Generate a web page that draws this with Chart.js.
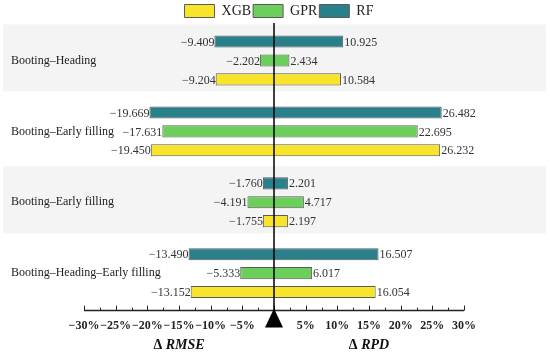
<!DOCTYPE html>
<html>
<head>
<meta charset="utf-8">
<script src="https://cdn.jsdelivr.net/npm/chart.js@4"></script>
<style>
  html, body { margin: 0; padding: 0; background: #fff; }
  #wrap { width: 550px; height: 352px; }
</style>
</head>
<body>
<div id="wrap"><canvas id="chart1" width="550" height="352"></canvas></div>
<script>
(() => {
  const serif = "'Liberation Serif', 'Times New Roman', serif";

  // categories, top to bottom
  const stages = ["Booting–Heading", "Booting–Early filling", "Booting–Early filling", "Booting–Heading–Early filling"];

  // change in RMSE (left side, %) and RPD (right side, %)
  const rmseRF = [-9.409, -19.669, -1.760, -13.490];
  const rpdRF = [10.925, 26.482, 2.201, 16.507];
  const rmseGPR = [-2.202, -17.631, -4.191, -5.333];
  const rpdGPR = [2.434, 22.695, 4.717, 6.017];
  const rmseXGB = [-9.204, -19.450, -1.755, -13.152];
  const rpdXGB = [10.584, 26.232, 2.197, 16.054];

  const xTicks = [-30, -25, -20, -15, -10, -5, 0, 5, 10, 15, 20, 25, 30];

  const pairs = (lo, hi) => lo.map((v, i) => [v, hi[i]]);
  const fmt = (v) => (v < 0 ? "−" : "") + Math.abs(v).toFixed(3);

  const makeSet = (label, lo, hi, color) => ({
    label: label,
    data: pairs(lo, hi),
    backgroundColor: color,
    borderColor: "#5b5b5b",
    borderWidth: 1,
    borderSkipped: false,
    categoryPercentage: 0.8,
    barPercentage: 0.64,
  });

  const decor = {
    id: "decor",
    afterLayout(chart) {
      // legend sits a little right of centre in the original
      chart.legend.left += 5;
      chart.legend.right += 5;
    },
    beforeDatasetsDraw(chart) {
      const ctx = chart.ctx;
      const y = chart.scales.y;
      ctx.save();
      ctx.fillStyle = "#f4f4f4";
      [0, 2].forEach((i) => {
        const c = y.getPixelForValue(i);
        ctx.fillRect(3, c - 36, 543, 67);
      });
      ctx.restore();
    },
    afterDatasetsDraw(chart) {
      const ctx = chart.ctx;
      const x = chart.scales.x;
      const y = chart.scales.y;
      const area = chart.chartArea;
      ctx.save();

      // value labels at both ends of every bar
      ctx.font = "12px " + serif;
      ctx.fillStyle = "#333";
      ctx.textBaseline = "middle";
      chart.data.datasets.forEach((ds, di) => {
        const meta = chart.getDatasetMeta(di);
        meta.data.forEach((bar, i) => {
          const [lo, hi] = ds.data[i];
          ctx.textAlign = "right";
          ctx.fillText(fmt(lo), x.getPixelForValue(lo), bar.y + 1);
          ctx.textAlign = "left";
          ctx.fillText(fmt(hi), x.getPixelForValue(hi) + 1, bar.y + 1);
        });
      });

      // category labels
      ctx.font = "12px " + serif;
      ctx.fillStyle = "#222";
      ctx.textAlign = "left";
      stages.forEach((s, i) => {
        ctx.fillText(s, 11, y.getPixelForValue(i));
      });

      // axis line with inward ticks
      const axisY = area.bottom + 2;
      const x0 = x.getPixelForValue(0);
      ctx.strokeStyle = "#222";
      ctx.lineWidth = 1.5;
      ctx.beginPath();
      ctx.moveTo(x.getPixelForValue(-30), axisY);
      ctx.lineTo(x.getPixelForValue(30), axisY);
      ctx.stroke();
      ctx.lineWidth = 1;
      for (let v = -30; v <= 30; v += 2.5) {
        const px = Math.round(x.getPixelForValue(v)) + 0.5;
        const len = v % 5 === 0 ? 5 : 3;
        ctx.beginPath();
        ctx.moveTo(px, axisY);
        ctx.lineTo(px, axisY - len);
        ctx.stroke();
      }

      // zero line
      ctx.strokeStyle = "#000";
      ctx.lineWidth = 1.5;
      ctx.beginPath();
      ctx.moveTo(x0, 23);
      ctx.lineTo(x0, axisY);
      ctx.stroke();

      // triangle marker
      ctx.fillStyle = "#000";
      ctx.beginPath();
      ctx.moveTo(x0, axisY - 2);
      ctx.lineTo(x0 + 9, axisY + 17);
      ctx.lineTo(x0 - 9, axisY + 17);
      ctx.closePath();
      ctx.fill();

      // side titles
      const title = (px, sym, word) => {
        ctx.font = "bold 14px " + serif;
        const w1 = ctx.measureText(sym).width;
        ctx.font = "italic bold 14px " + serif;
        const w2 = ctx.measureText(word).width;
        const start = px - (w1 + w2) / 2;
        ctx.textAlign = "left";
        ctx.fillStyle = "#111";
        ctx.font = "bold 14px " + serif;
        ctx.fillText(sym, start, 345);
        ctx.font = "italic bold 14px " + serif;
        ctx.fillText(word, start + w1, 345);
      };
      title(x.getPixelForValue(-15), "Δ ", "RMSE");
      title(x.getPixelForValue(15), "Δ ", "RPD");

      ctx.restore();
    },
  };

  const config = {
    type: "bar",
    data: {
      labels: stages,
      datasets: [
        makeSet("RF", rmseRF, rpdRF, "#2a808a"),
        makeSet("GPR", rmseGPR, rpdGPR, "#6ccf5b"),
        makeSet("XGB", rmseXGB, rpdXGB, "#f8e42a"),
      ],
    },
    options: {
      indexAxis: "y",
      responsive: false,
      animation: false,
      layout: { padding: { left: 84, right: 86, top: 2, bottom: 9 } },
      plugins: {
        tooltip: { enabled: false },
        legend: {
          position: "top",
          maxHeight: 23,
          labels: {
            boxWidth: 30,
            boxHeight: 13,
            padding: 2,
            color: "#222",
            font: { family: serif, size: 14 },
            sort: (a, b) => b.datasetIndex - a.datasetIndex,
          },
        },
      },
      scales: {
        x: {
          min: -30,
          max: 30,
          afterBuildTicks: (scale) => {
            scale.ticks = xTicks.map((v) => ({ value: v }));
          },
          grid: { display: false, drawTicks: false },
          border: { display: false },
          ticks: {
            autoSkip: false,
            maxRotation: 0,
            padding: 10,
            color: "#222",
            font: { family: serif, size: 12, weight: "bold" },
            callback: (v) => (v === 0 ? "" : (v < 0 ? "−" : "") + Math.abs(v) + "%"),
          },
        },
        y: {
          display: false,
          grid: { display: false },
        },
      },
    },
    plugins: [decor],
  };

  new Chart(document.getElementById("chart1"), config);
})();
</script>
</body>
</html>
